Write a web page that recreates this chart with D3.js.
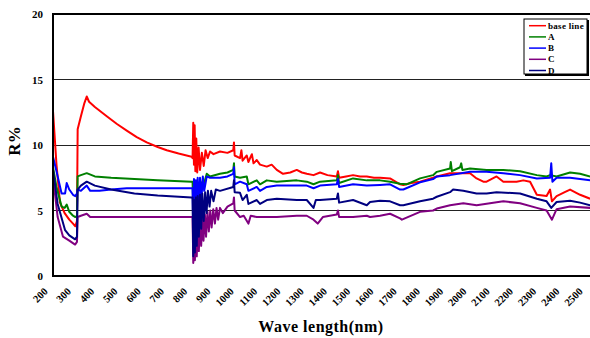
<!DOCTYPE html>
<html>
<head>
<meta charset="utf-8">
<script src="https://cdn.jsdelivr.net/npm/d3@7"></script>
<style>
  body { margin: 0; background: #fff; }
  svg { display: block; }
  text { font-family: "Liberation Serif", "Times New Roman", serif; font-weight: bold; }
</style>
</head>
<body>
<div id="chart"></div>
<script>
// Wavelength tick labels (nm)
const xTicks = d3.range(200, 2600, 100);
const yTicks = [0, 5, 10, 15, 20];

// Series: [wavelength nm, R %]
const baseLine = [[200,12.6],[215,8.5],[230,5.6],[250,4.8],[270,4.3],[286,4.0],[296,3.8],[303,4.2],[306,11.2],[320,12.2],[335,13.2],[345,13.7],[355,13.3],[380,12.9],[431,12.2],[475,11.6],[517,11.1],[560,10.6],[603,10.2],[650,9.85],[689,9.6],[740,9.35],[796,9.1],[800,9.0],[803,11.7],[806,8.5],[809,11.5],[812,8.0],[816,10.5],[820,7.9],[826,9.8],[832,8.1],[840,9.4],[848,8.4],[856,9.6],[865,9.0],[875,9.5],[890,9.3],[918,9.5],[950,9.4],[975,9.6],[978,10.2],[981,9.2],[1004,9.0],[1010,9.6],[1015,8.8],[1033,9.2],[1040,8.7],[1055,9.3],[1062,8.6],[1076,8.85],[1090,8.5],[1119,8.35],[1140,8.5],[1162,8.1],[1189,7.8],[1220,7.9],[1248,8.1],[1270,7.9],[1291,7.8],[1320,7.7],[1348,7.9],[1380,7.7],[1420,7.6],[1425,8.0],[1430,7.5],[1460,7.6],[1490,7.7],[1520,7.6],[1549,7.6],[1580,7.5],[1606,7.5],[1649,7.45],[1692,7.0],[1706,6.95],[1740,7.1],[1778,7.2],[1834,7.5],[1850,7.6],[1907,7.85],[1950,7.85],[1993,7.85],[2021,7.45],[2050,7.2],[2064,7.2],[2107,7.6],[2136,7.2],[2193,7.2],[2222,7.3],[2251,7.2],[2280,6.2],[2322,6.1],[2337,6.6],[2345,5.7],[2365,6.1],[2400,6.4],[2423,6.6],[2466,6.2],[2509,5.9]];

const seriesA = [[200,8.3],[215,6.8],[237,5.3],[250,5.2],[259,5.45],[270,4.9],[286,4.6],[296,4.5],[303,4.6],[306,7.6],[320,7.7],[345,7.85],[380,7.6],[450,7.5],[550,7.4],[650,7.3],[796,7.2],[800,7.2],[803,5.0],[808,7.0],[812,5.5],[818,7.2],[825,6.0],[832,7.3],[845,6.8],[861,7.8],[875,7.6],[918,7.8],[950,7.9],[975,8.1],[978,8.6],[981,7.6],[1004,7.5],[1033,7.6],[1040,7.0],[1076,7.3],[1090,7.0],[1119,7.3],[1162,7.2],[1248,7.3],[1291,7.2],[1320,7.0],[1348,7.2],[1420,7.3],[1425,7.7],[1430,7.1],[1490,7.45],[1549,7.3],[1606,7.3],[1649,7.2],[1692,7.05],[1720,7.0],[1778,7.45],[1834,7.7],[1850,7.95],[1907,8.2],[1910,8.7],[1915,8.0],[1950,8.3],[1955,8.6],[1960,8.1],[1993,8.2],[2064,8.1],[2136,8.1],[2208,8.0],[2280,7.7],[2322,7.6],[2337,7.7],[2365,7.6],[2423,7.9],[2466,7.8],[2509,7.6]];

const seriesB = [[200,9.1],[215,8.0],[237,6.3],[252,6.3],[259,7.1],[270,6.6],[286,6.2],[296,6.1],[303,6.3],[306,6.6],[320,6.5],[345,6.9],[360,6.5],[400,6.5],[450,6.6],[517,6.7],[600,6.7],[700,6.7],[796,6.7],[800,6.7],[803,3.5],[806,7.4],[810,3.0],[814,7.3],[818,4.2],[822,7.5],[827,5.0],[832,7.5],[838,5.8],[844,7.6],[850,6.5],[861,7.6],[875,7.5],[918,7.5],[950,7.6],[975,7.8],[978,8.3],[981,7.0],[1004,7.2],[1033,7.0],[1040,6.5],[1076,6.8],[1090,6.5],[1119,6.8],[1162,6.9],[1248,6.9],[1291,6.9],[1320,6.7],[1348,6.9],[1420,7.0],[1425,7.4],[1430,6.8],[1490,7.0],[1549,6.9],[1606,6.95],[1649,7.0],[1692,6.6],[1706,6.6],[1778,7.15],[1834,7.4],[1850,7.6],[1907,7.7],[1993,7.95],[2064,7.95],[2136,7.85],[2208,7.7],[2280,7.45],[2337,7.5],[2342,8.6],[2347,7.2],[2365,7.5],[2423,7.5],[2509,7.3]];

const seriesC = [[200,7.6],[220,4.5],[243,3.0],[270,2.7],[295,2.4],[303,2.6],[306,4.5],[320,4.6],[345,4.75],[360,4.5],[450,4.5],[600,4.5],[796,4.5],[800,4.5],[803,1.0],[806,3.5],[810,1.2],[814,4.0],[818,1.5],[822,4.2],[827,1.9],[832,4.4],[837,2.3],[842,4.6],[847,2.7],[853,4.7],[858,3.0],[864,4.9],[870,3.4],[876,5.0],[882,3.7],[889,5.1],[896,4.0],[903,5.2],[910,4.3],[918,5.2],[930,4.8],[950,5.3],[975,5.55],[978,6.0],[981,5.0],[1004,4.5],[1020,4.6],[1040,4.0],[1050,4.6],[1076,4.5],[1119,4.5],[1162,4.5],[1248,4.6],[1291,4.6],[1320,4.3],[1338,4.0],[1360,4.5],[1420,4.7],[1425,5.0],[1430,4.5],[1490,4.5],[1549,4.6],[1563,4.5],[1606,4.6],[1649,4.75],[1692,4.4],[1700,4.3],[1778,4.9],[1834,5.0],[1850,5.15],[1907,5.4],[1964,5.55],[2021,5.4],[2136,5.7],[2208,5.55],[2280,5.2],[2322,5.0],[2345,4.3],[2365,5.1],[2423,5.3],[2509,5.2]];

const seriesD = [[200,8.1],[220,5.5],[252,3.5],[270,3.1],[295,2.8],[303,3.0],[306,6.6],[320,6.9],[345,7.2],[380,6.9],[450,6.6],[550,6.3],[650,6.15],[796,6.0],[800,6.0],[803,1.5],[806,5.8],[810,1.8],[814,6.0],[818,2.3],[822,6.1],[827,3.0],[832,6.2],[837,3.6],[842,6.3],[848,4.2],[854,6.4],[860,4.8],[866,6.5],[873,5.3],[880,6.5],[890,5.7],[900,6.6],[918,6.5],[975,6.8],[978,7.3],[981,6.4],[1004,6.35],[1015,5.8],[1033,6.2],[1040,5.5],[1076,5.8],[1090,5.5],[1119,5.8],[1162,5.9],[1248,5.8],[1291,5.8],[1320,5.2],[1330,5.8],[1348,5.8],[1420,5.9],[1425,6.3],[1430,5.6],[1490,5.8],[1549,5.4],[1563,5.65],[1606,5.75],[1649,5.7],[1692,5.4],[1706,5.4],[1778,5.7],[1834,5.9],[1850,6.05],[1907,6.4],[1920,6.6],[1964,6.5],[2021,6.3],[2064,6.3],[2107,6.4],[2208,6.3],[2280,5.9],[2322,5.7],[2342,5.2],[2365,5.65],[2423,5.75],[2466,5.6],[2509,5.4]];

const seriesNames = ['base line', 'A', 'B', 'C', 'D'];
const seriesColors = ['#ff0000', '#008000', '#0000ff', '#800080', '#000080'];
const seriesData = [baseLine, seriesA, seriesB, seriesC, seriesD];

// Canvas and plot box
const W = 590, H = 338;
const plot = { left: 53, top: 14, bottom: 276, right: 600 };

const svg = d3.select('#chart').append('svg')
  .attr('width', W).attr('height', H);

const x = d3.scaleLinear().domain([200, 2500]).range([plot.left, 588]);
const y = d3.scaleLinear().domain([0, 20]).range([plot.bottom, plot.top]);

// Gridlines at 5, 10, 15
svg.append('g')
  .selectAll('line')
  .data(yTicks.filter(v => v > 0 && v < 20))
  .join('line')
    .attr('x1', plot.left).attr('x2', plot.right)
    .attr('y1', d => y(d)).attr('y2', d => y(d))
    .attr('stroke', '#222').attr('stroke-width', 1)
    .attr('shape-rendering', 'crispEdges');

// Clip lines to plot area
svg.append('clipPath').attr('id', 'clip')
  .append('rect')
    .attr('x', plot.left).attr('y', plot.top)
    .attr('width', plot.right - plot.left).attr('height', plot.bottom - plot.top);

const line = d3.line().x(d => x(d[0])).y(d => y(d[1]));

svg.append('g').attr('clip-path', 'url(#clip)')
  .selectAll('path')
  .data(seriesData)
  .join('path')
    .attr('d', line)
    .attr('fill', 'none')
    .attr('stroke', (d, i) => seriesColors[i])
    .attr('stroke-width', 2)
    .attr('stroke-linejoin', 'round');

// Plot border (left, top, bottom)
svg.append('path')
  .attr('d', `M${plot.right},${plot.top}H${plot.left}V${plot.bottom}H${plot.right}`)
  .attr('fill', 'none').attr('stroke', '#000').attr('stroke-width', 2);

// Y axis labels
const yAxis = d3.axisLeft(y).tickValues(yTicks).tickSize(0).tickPadding(10);
const yg = svg.append('g').attr('transform', `translate(${plot.left},0)`).call(yAxis);
yg.select('.domain').remove();
yg.selectAll('text')
  .attr('font-size', 11)
  .attr('font-family', '"Liberation Serif", serif')
  .attr('font-weight', 'bold')
  .attr('fill', '#000');

// X axis labels, rotated
const xAxis = d3.axisBottom(x).tickValues(xTicks).tickFormat(d3.format('d')).tickSize(0);
const xg = svg.append('g').attr('transform', `translate(0,${plot.bottom})`).call(xAxis);
xg.select('.domain').remove();
xg.selectAll('text')
  .attr('x', 0).attr('y', 0).attr('dy', 0)
  .attr('text-anchor', 'end')
  .attr('transform', 'translate(-5,16) rotate(-45)')
  .attr('font-size', 10.5)
  .attr('font-family', '"Liberation Serif", serif')
  .attr('font-weight', 'bold')
  .attr('fill', '#000');

// Axis titles
svg.append('text')
  .attr('transform', 'translate(20,141) rotate(-90)')
  .attr('text-anchor', 'middle')
  .attr('font-size', 17)
  .text('R%');

svg.append('text')
  .attr('x', 321).attr('y', 332)
  .attr('text-anchor', 'middle')
  .attr('font-size', 16)
  .attr('letter-spacing', 0.5)
  .text('Wave length(nm)');

// Legend
const lg = svg.append('g').attr('transform', 'translate(524,19)');
lg.append('rect').attr('x', 1).attr('y', 1).attr('width', 64).attr('height', 56).attr('fill', '#000');
lg.append('rect').attr('x', 0).attr('y', 0).attr('width', 63).attr('height', 55)
  .attr('fill', '#fff').attr('stroke', '#000').attr('stroke-width', 1);
const items = lg.selectAll('g.item')
  .data(seriesNames)
  .join('g')
    .attr('class', 'item')
    .attr('transform', (d, i) => `translate(0,${6.7 + i * 11.2})`);
items.append('line')
  .attr('x1', 5).attr('x2', 22)
  .attr('stroke', (d, i) => seriesColors[i]).attr('stroke-width', 1.5);
items.append('text')
  .attr('x', 24).attr('y', 3)
  .attr('font-size', 9)
  .attr('letter-spacing', 0.3)
  .text(d => d);
</script>
</body>
</html>
